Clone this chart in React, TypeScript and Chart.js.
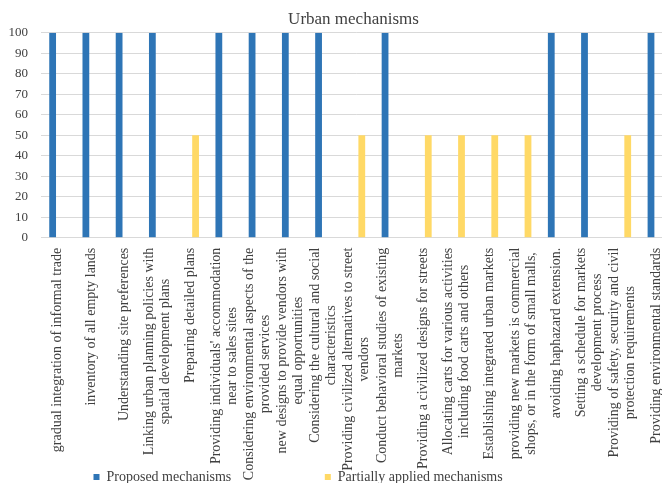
import React, { useEffect, useRef } from "react";
import { Chart, registerables } from "chart.js";

Chart.register(...registerables);

const categories: string[][] = [
  ["gradual integration of informal trade"],
  ["inventory of all empty lands"],
  ["Understanding site preferences"],
  ["Linking urban planning policies with", "spatial development plans"],
  ["Preparing detailed plans"],
  ["Providing individuals' accommodation", "near to sales sites"],
  ["Considering environmental aspects of the", "provided services"],
  ["new designs to provide vendors with", "equal opportunities"],
  ["Considering the cultural and social", "characteristics"],
  ["Providing civilized alternatives to street", "vendors"],
  ["Conduct behavioral studies of existing", "markets"],
  ["Providing a civilized designs for streets"],
  ["Allocating carts for various activities", "including food carts and others"],
  ["Establishing integrated urban markets"],
  ["providing new markets is commercial", "shops, or in the form of small malls,"],
  ["avoiding haphazard extension."],
  ["Setting a schedule for markets", "development process"],
  ["Providing of safety, security and civil", "protection requirements"],
  ["Providing environmental standards"],
];

const proposed: (number | null)[] = [
  100, 100, 100, 100, null, 100, 100, 100, 100, null, 100, null, null, null, null, 100, 100, null, 100,
];

const partial: (number | null)[] = [
  null, null, null, null, 50, null, null, null, null, 50, null, 50, 50, 50, 50, null, null, 50, null,
];

const seriesNames = ["Proposed mechanisms", "Partially applied mechanisms"];
const yTicks = { min: 0, max: 100, step: 10 };

const FONT = '"Liberation Serif", "Times New Roman", serif';
const TEXT = "#404040";

const rotatedLabels = {
  id: "rotatedLabels",
  afterDraw(chart: any) {
    const xs = chart.scales.x;
    const ctx = chart.ctx;
    ctx.save();
    ctx.font = `14px ${FONT}`;
    ctx.fillStyle = TEXT;
    ctx.textAlign = "center";
    ctx.textBaseline = "middle";
    const lineH = 16;
    (chart.data.labels as string[][]).forEach((lines, i) => {
      const x = xs.getPixelForTick(i);
      const W = Math.max(...lines.map((l) => ctx.measureText(l).width));
      const top = xs.top + 10;
      ctx.save();
      ctx.translate(x, top + W / 2);
      ctx.rotate(-Math.PI / 2);
      lines.forEach((l, j) => {
        ctx.fillText(l, 0, (j - (lines.length - 1) / 2) * lineH);
      });
      ctx.restore();
    });
    ctx.restore();
  },
};

export default function App() {
  const ref = useRef<HTMLCanvasElement>(null);
  useEffect(() => {
    if (!ref.current) return;
    Chart.defaults.font.family = FONT;
    const chart = new Chart(ref.current, {
      type: "bar",
      data: {
        labels: categories,
        datasets: [
          {
            label: seriesNames[0],
            data: proposed,
            backgroundColor: "#2E75B6",
            categoryPercentage: 0.6,
            barPercentage: 0.68,
          },
          {
            label: seriesNames[1],
            data: partial,
            backgroundColor: "#FFD966",
            categoryPercentage: 0.6,
            barPercentage: 0.68,
          },
        ],
      },
      options: {
        responsive: false,
        animation: false,
        layout: { padding: 0 },
        plugins: {
          title: {
            display: true,
            text: "Urban mechanisms",
            color: TEXT,
            font: { size: 17, weight: "normal", family: FONT },
            padding: { top: 9, bottom: 3.3 },
          },
          legend: {
            display: true,
            position: "bottom",
            align: "start",
            maxHeight: 106.5,
            labels: {
              boxWidth: 6,
              boxHeight: 6,
              padding: 93.5,
              color: TEXT,
              font: { size: 14, family: FONT },
            },
          } as any,
          tooltip: { enabled: false },
        },
        scales: {
          x: {
            grid: { display: false },
            border: { display: true, color: "#D9D9D9" },
            ticks: { display: false },
            afterFit: (s: any) => {
              s.height = 138.8;
            },
          },
          y: {
            min: yTicks.min,
            max: yTicks.max,
            ticks: {
              stepSize: yTicks.step,
              color: TEXT,
              font: { size: 13, family: FONT },
              padding: 13,
            },
            grid: { color: "#D9D9D9", drawTicks: false },
            border: { display: false },
            afterFit: (s: any) => {
              s.width = 41;
            },
          },
          y2: {
            position: "right",
            display: true,
            grid: { display: false },
            border: { display: false },
            ticks: { display: false },
            afterFit: (s: any) => {
              s.width = 34.4;
            },
          },
        },
      },
      plugins: [rotatedLabels],
    });
    return () => chart.destroy();
  }, []);
  return (
    <div
      style={{
        position: "fixed",
        left: 0,
        top: 0,
        width: 662,
        height: 483,
        overflow: "hidden",
        background: "#fff",
      }}
    >
      <canvas ref={ref} width={707} height={483} style={{ display: "block" }} />
    </div>
  );
}
